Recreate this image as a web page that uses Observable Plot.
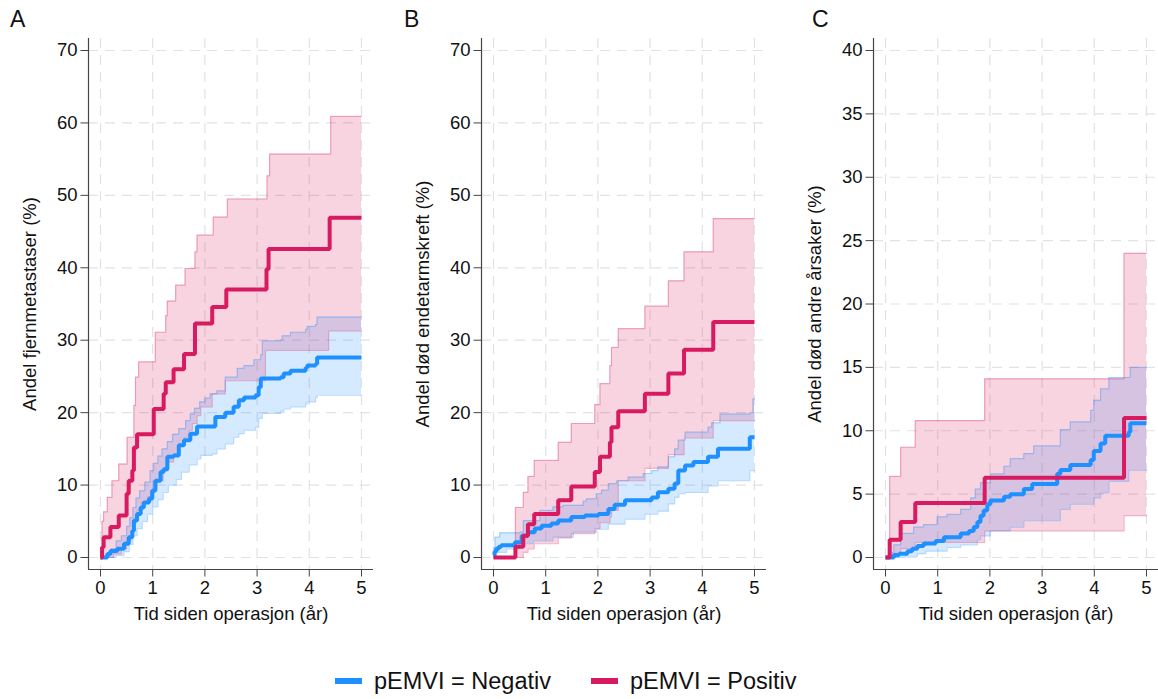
<!DOCTYPE html>
<html>
<head>
<meta charset="utf-8">
<script src="https://cdn.jsdelivr.net/npm/d3@7"></script>
<script src="https://cdn.jsdelivr.net/npm/@observablehq/plot@0.6"></script>
<style>
  html, body { margin: 0; padding: 0; background: white; }
  #wrap { position: relative; width: 1158px; height: 699px; overflow: hidden; font-family: "Liberation Sans", Arial, sans-serif; color: #111; }
  .panel { position: absolute; top: 0; }
  .plab { position: absolute; top: 6px; font-size: 23px; }
  #legend { position: absolute; top: 662px; left: 335px; height: 38px; display: flex; align-items: center; font-size: 23.5px; white-space: nowrap; }
  .sw { display: inline-block; width: 27px; height: 6px; margin-right: 12px; }
</style>
</head>
<body>
<div id="wrap">
  <div id="pA" class="panel" style="left:0px"></div>
  <div id="pB" class="panel" style="left:386px"></div>
  <div id="pC" class="panel" style="left:772px"></div>
  <div class="plab" style="left:10px">A</div>
  <div class="plab" style="left:404px">B</div>
  <div class="plab" style="left:812px">C</div>
  <div id="legend">
    <span class="sw" style="background:#1e90ff"></span><span>pEMVI = Negativ</span>
    <span class="sw" style="background:#d81b60; margin-left:40px"></span><span>pEMVI = Positiv</span>
  </div>
</div>
<script>
// ---------- categories / labels ----------
const groups = ["pEMVI = Negativ", "pEMVI = Positiv"];
const colors = ["#1e90ff", "#d81b60"];
const xLabel = "Tid siden operasjon (år)";
const xTicks = [0, 1, 2, 3, 4, 5];
const yTicksAB = [0, 10, 20, 30, 40, 50, 60, 70];
const yTicksC = [0, 5, 10, 15, 20, 25, 30, 35, 40];
const yLabels = ["Andel fjernmetastaser (%)", "Andel død endetarmskreft (%)", "Andel død andre årsaker (%)"];

// ---------- Panel A: [time (år), %] step points ----------
const aNeg = [[0,0],[0.13,0.5],[0.19,0.9],[0.32,1.2],[0.45,1.9],[0.54,2.8],[0.61,3.7],[0.64,5.1],[0.70,6.0],[0.77,6.9],[0.83,7.6],[0.93,8.1],[0.99,9.2],[1.05,10.6],[1.15,11.8],[1.21,12.2],[1.28,13.9],[1.40,14.1],[1.50,15.5],[1.60,16.2],[1.72,17.1],[1.85,18.1],[2.20,19.4],[2.39,20.0],[2.55,20.8],[2.65,21.7],[2.75,22.1],[2.97,22.4],[3.03,23.5],[3.07,24.7],[3.45,24.9],[3.51,25.4],[3.64,25.8],[3.93,26.2],[3.96,26.5],[4.12,26.7],[4.15,27.6],[5.0,27.6]];
const aNegLo = [[0,0],[0.3,0.3],[0.45,0.8],[0.55,1.8],[0.62,3.0],[0.7,4.0],[0.8,5.0],[0.9,6.0],[1.0,7.0],[1.1,8.0],[1.2,9.0],[1.3,10.0],[1.45,10.8],[1.55,11.8],[1.7,12.8],[1.85,13.6],[1.92,14.1],[2.14,14.3],[2.23,15.0],[2.39,15.7],[2.55,16.6],[2.65,17.1],[2.75,17.6],[2.97,18.0],[3.03,19.2],[3.10,19.9],[3.45,20.2],[3.51,20.5],[3.64,20.8],[3.93,21.2],[3.96,21.5],[4.12,22.1],[4.15,22.4],[5.0,22.4]];
const aNegHi = [[0,0],[0.1,0.3],[0.2,1.2],[0.3,2.3],[0.4,3.0],[0.5,4.3],[0.56,5.5],[0.62,6.9],[0.68,8.2],[0.75,9.2],[0.85,10.4],[0.95,12.0],[1.02,13.0],[1.1,14.0],[1.18,15.0],[1.28,16.0],[1.38,17.0],[1.5,17.8],[1.63,18.9],[1.72,19.8],[1.8,20.6],[1.9,21.5],[2.0,22.0],[2.1,22.6],[2.23,23.0],[2.39,24.9],[2.62,26.1],[2.75,26.5],[2.94,27.3],[3.07,28.0],[3.10,29.9],[3.45,30.0],[3.48,30.6],[3.64,31.1],[3.93,31.5],[3.96,31.9],[4.12,32.2],[4.15,33.2],[5.0,33.2]];
const aPos = [[0,0],[0.03,1.4],[0.06,2.8],[0.19,4.2],[0.35,5.8],[0.50,8.8],[0.54,10.6],[0.61,12.0],[0.64,15.2],[0.70,17.0],[1.02,20.5],[1.21,22.6],[1.25,24.2],[1.40,26.0],[1.60,28.1],[1.81,32.3],[2.14,34.6],[2.41,37.0],[3.18,39.8],[3.22,42.6],[4.39,46.9],[5.0,46.9]];
const aPosLo = [[0,0],[0.25,0.5],[0.4,1.2],[0.5,2.3],[0.58,3.5],[0.64,5.0],[0.7,6.5],[0.78,7.6],[0.9,8.4],[1.02,9.5],[1.08,10.6],[1.2,12.0],[1.3,13.2],[1.4,14.3],[1.5,15.5],[1.6,16.6],[1.7,17.6],[1.76,18.5],[1.85,19.6],[1.92,20.8],[2.14,22.6],[2.39,24.4],[3.16,28.6],[4.37,31.3],[5.0,31.3]];
const aPosHi = [[0,0],[0.03,5.0],[0.06,6.3],[0.13,8.3],[0.22,10.6],[0.35,12.9],[0.51,16.6],[0.64,21.0],[0.67,24.9],[0.73,27.0],[1.05,31.1],[1.25,33.4],[1.28,35.4],[1.44,37.6],[1.62,39.9],[1.81,42.2],[1.85,44.5],[2.16,47.0],[2.43,49.5],[3.19,52.7],[3.24,55.7],[4.41,60.9],[5.0,60.9]];

// ---------- Panel B ----------
const bNeg = [[0,0.3],[0.02,0.8],[0.05,1.2],[0.1,1.5],[0.15,1.7],[0.41,2.1],[0.54,3.0],[0.66,3.5],[0.79,4.0],[0.92,4.4],[1.11,4.7],[1.24,5.1],[1.49,5.6],[1.75,5.8],[2.01,6.0],[2.20,6.7],[2.32,7.3],[2.52,7.9],[3.03,8.3],[3.15,9.0],[3.35,9.5],[3.47,10.2],[3.54,12.0],[3.67,12.7],[3.83,13.2],[4.11,13.9],[4.30,15.0],[4.91,16.6],[5.0,16.6]];
const bNegLo = [[0,0],[0.06,0.7],[0.25,1.2],[0.5,1.9],[0.76,2.3],[1.14,2.8],[1.53,3.5],[1.97,3.9],[2.2,4.6],[2.52,5.3],[2.9,6.0],[3.15,6.4],[3.35,7.4],[3.47,8.3],[3.55,8.8],[3.67,9.0],[4.11,9.9],[4.3,10.6],[4.91,12.0],[5.0,12.0]];
const bNegHi = [[0,1.4],[0.03,2.8],[0.12,3.4],[0.51,3.5],[0.57,5.1],[0.89,6.5],[1.14,7.0],[1.33,7.2],[1.72,7.8],[1.78,8.1],[1.97,8.8],[2.07,9.3],[2.2,10.2],[2.36,10.6],[2.58,11.1],[2.87,11.6],[3.03,12.0],[3.15,12.5],[3.35,13.9],[3.47,15.0],[3.54,16.2],[3.67,17.3],[4.11,18.0],[4.18,18.6],[4.34,19.8],[4.91,20.0],[4.97,21.9],[5.0,21.9]];
const bPos = [[0,0],[0.42,1.5],[0.57,3.0],[0.66,4.6],[0.78,6.0],[1.24,7.9],[1.49,9.8],[1.94,11.8],[2.04,13.9],[2.23,15.9],[2.26,18.0],[2.39,20.2],[2.90,22.6],[3.35,25.4],[3.65,28.7],[4.21,32.5],[5.0,32.5]];
const bPosLo = [[0,0],[0.57,0.7],[0.66,1.2],[0.78,1.9],[1.24,2.7],[1.49,3.3],[1.94,4.0],[2.04,4.8],[2.23,5.6],[2.26,6.5],[2.39,10.6],[2.90,12.3],[3.35,14.2],[3.65,16.5],[4.21,18.9],[5.0,18.9]];
const bPosHi = [[0,0],[0.42,6.9],[0.57,9.0],[0.66,11.2],[0.78,13.4],[1.24,15.9],[1.49,18.5],[1.94,21.1],[2.04,24.0],[2.23,26.5],[2.26,29.0],[2.39,31.6],[2.90,34.7],[3.35,38.2],[3.65,42.2],[4.21,46.8],[5.0,46.8]];

// ---------- Panel C ----------
const cNeg = [[0,0],[0.16,0.2],[0.26,0.3],[0.42,0.5],[0.51,0.7],[0.61,0.9],[0.73,1.1],[0.96,1.3],[1.12,1.6],[1.44,1.9],[1.60,2.1],[1.69,2.4],[1.76,2.8],[1.82,3.3],[1.88,3.7],[1.95,4.2],[2.01,4.5],[2.27,4.8],[2.39,5.0],[2.65,5.4],[2.81,5.8],[3.29,6.6],[3.35,6.9],[3.54,7.3],[3.93,7.7],[3.99,8.4],[4.12,9.0],[4.21,9.6],[4.66,9.9],[4.69,10.6],[5.0,10.6]];
const cNegLo = [[0,0],[0.38,0.1],[0.61,0.3],[0.77,0.5],[1.18,0.8],[1.44,1.0],[1.76,1.4],[1.82,1.7],[2.01,2.1],[2.39,2.4],[2.65,2.9],[3.35,3.8],[3.54,4.2],[3.99,4.7],[4.12,5.1],[4.28,6.0],[4.66,6.9],[5.0,6.9]];
const cNegHi = [[0,0],[0.13,0.4],[0.16,1.0],[0.29,1.9],[0.54,2.4],[0.73,2.6],[0.99,3.2],[1.18,3.4],[1.44,3.8],[1.63,4.7],[1.72,5.4],[1.82,5.9],[2.01,6.6],[2.27,7.2],[2.39,7.8],[2.65,8.2],[2.84,8.8],[3.35,10.1],[3.54,10.7],[3.93,11.6],[3.99,12.4],[4.12,13.3],[4.28,14.2],[4.69,15.0],[5.0,15.0]];
const cPos = [[0,0],[0.08,1.4],[0.29,2.8],[0.57,4.3],[1.90,6.3],[4.57,11.0],[5.0,11.0]];
const cPosLo = [[0,0],[0.08,0.2],[0.29,0.7],[0.57,1.2],[1.90,2.1],[4.57,3.3],[5.0,3.3]];
const cPosHi = [[0,0],[0.08,6.4],[0.29,8.7],[0.57,10.8],[1.90,14.1],[4.57,24.0],[5.0,24.0]];

// ---------- helpers ----------
function stepVal(arr, t) {
  let v = arr[0][1];
  for (const [tt, vv] of arr) { if (tt <= t) v = vv; else break; }
  return v;
}
function bandTable(lo, hi) {
  const ts = Array.from(new Set([...lo.map(d => d[0]), ...hi.map(d => d[0])])).sort((a, b) => a - b);
  return ts.map(t => ({t, lo: stepVal(lo, t), hi: stepVal(hi, t)}));
}

const font = "'Liberation Sans', Arial, Helvetica, sans-serif";

function panel(el, cfg) {
  const {mL, mR, yMax, yTicks, yLabel, neg, negLo, negHi, pos, posLo, posHi} = cfg;
  const xPad = 0.23;
  const yPad = 12 * yMax / 507;
  const x0 = -xPad, y0 = -yPad;
  const series = [
    {line: neg, lo: negLo, hi: negHi, c: colors[0]},
    {line: pos, lo: posLo, hi: posHi, c: colors[1]}
  ];
  const marks = [
    Plot.gridX(xTicks, {stroke: "#e2e2e2", strokeOpacity: 1, strokeWidth: 1.2, strokeDasharray: "10,7"}),
    Plot.gridY(yTicks, {stroke: "#e2e2e2", strokeOpacity: 1, strokeWidth: 1.2, strokeDasharray: "10,7"})
  ];
  for (const s of series) {
    marks.push(Plot.areaY(bandTable(s.lo, s.hi), {x: "t", y1: "lo", y2: "hi", curve: "step-after", fill: s.c, fillOpacity: 0.19}));
  }
  for (const s of series) {
    for (const b of [s.lo, s.hi]) {
      marks.push(Plot.line(b, {x: d => d[0], y: d => d[1], curve: "step-after", stroke: s.c, strokeOpacity: 0.32, strokeWidth: 1.2}));
    }
  }
  for (const s of series) {
    marks.push(Plot.line(s.line, {x: d => d[0], y: d => d[1], curve: "step-after", stroke: s.c, strokeWidth: 4, strokeLinejoin: "miter", strokeLinecap: "butt"}));
  }
  marks.push(
    Plot.ruleX([x0], {stroke: "#444", strokeWidth: 1.2}),
    Plot.ruleY([y0], {stroke: "#444", strokeWidth: 1.2}),
    Plot.axisX(xTicks, {tickSize: 7.5, tickPadding: 3.5, stroke: "#444", fill: "#111", label: xLabel, labelAnchor: "center", labelOffset: 50, labelArrow: "none"}),
    Plot.axisY(yTicks, {tickSize: 7.5, tickPadding: 3.5, stroke: "#444", fill: "#111", label: yLabel, labelAnchor: "center", labelOffset: 66, labelArrow: "none"})
  );
  const chart = Plot.plot({
    width: 386, height: 640,
    marginLeft: mL, marginRight: mR, marginTop: 38, marginBottom: 71,
    style: {fontFamily: font, fontSize: "18.5px", background: "white", overflow: "visible", color: "#111"},
    x: {domain: [x0, 5 + xPad]},
    y: {domain: [y0, yMax + yPad]},
    marks
  });
  document.getElementById(el).appendChild(chart);
}

panel("pA", {mL: 88, mR: 13, yMax: 70, yTicks: yTicksAB, yLabel: yLabels[0], neg: aNeg, negLo: aNegLo, negHi: aNegHi, pos: aPos, posLo: aPosLo, posHi: aPosHi});
panel("pB", {mL: 95, mR: 6, yMax: 70, yTicks: yTicksAB, yLabel: yLabels[1], neg: bNeg, negLo: bNegLo, negHi: bNegHi, pos: bPos, posLo: bPosLo, posHi: bPosHi});
panel("pC", {mL: 101, mR: 0, yMax: 40, yTicks: yTicksC, yLabel: yLabels[2], neg: cNeg, negLo: cNegLo, negHi: cNegHi, pos: cPos, posLo: cPosLo, posHi: cPosHi});
</script>
</body>
</html>
